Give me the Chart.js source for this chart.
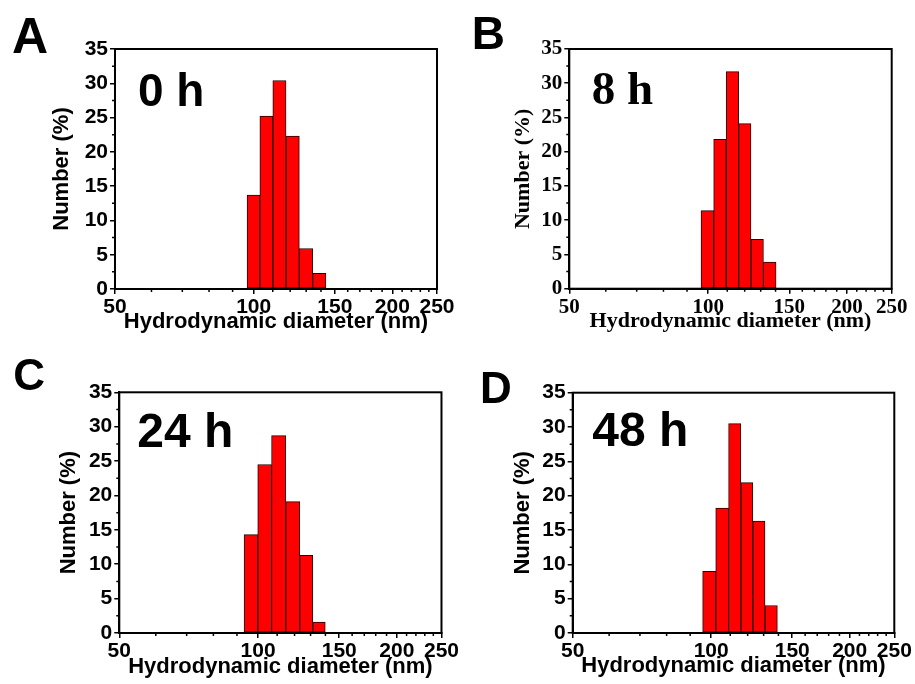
<!DOCTYPE html>
<html>
<head>
<meta charset="utf-8">
<script src="https://cdn.jsdelivr.net/npm/chart.js@4.4.1/dist/chart.umd.min.js"></script>
<style>
  body { margin: 0; background: #fff; }
  #wrap { position: relative; width: 915px; height: 684px; overflow: hidden; }
  canvas { position: absolute; }
</style>
</head>
<body>
<div id="wrap">
  <canvas id="cA" width="460" height="342" style="left:0;top:0"></canvas>
  <canvas id="cB" width="458" height="342" style="left:457px;top:0"></canvas>
  <canvas id="cC" width="460" height="342" style="left:0;top:342px"></canvas>
  <canvas id="cD" width="458" height="342" style="left:457px;top:342px"></canvas>
</div>
<script>
// bin centres (nm) and number (%)
const sizesA = [99.9, 106.5, 113.7, 121.5, 129.9, 138.8];
const numberA = [13.7, 25.2, 30.4, 22.3, 5.9, 2.3];

const sizesB = [99.6, 106.1, 112.9, 120.1, 127.7, 136.0];
const numberB = [11.4, 21.8, 31.7, 24.1, 7.2, 3.9];

const sizesC = [96.5, 103.3, 110.8, 119.0, 127.4, 135.6];
const numberC = [14.3, 24.5, 28.7, 19.1, 11.3, 1.6];

const sizesD = [99.0, 105.7, 112.6, 119.5, 126.9, 135.0];
const numberD = [9.0, 18.2, 30.5, 21.9, 16.3, 4.0];

const xTicks = [50, 100, 150, 200, 250];
const xMinor = [60, 70, 80, 90, 110, 120, 130, 140, 160, 170, 180, 190, 210, 220, 230, 240];
const yTicks = [0, 5, 10, 15, 20, 25, 30, 35];
const yMinor = [2.5, 7.5, 12.5, 17.5, 22.5, 27.5, 32.5];

const xTitle = 'Hydrodynamic diameter (nm)';
const yTitle = 'Number (%)';

// box, minor ticks, panel letter and time label
const decor = {
    id: 'decor',
    afterDraw(chart, args, o) {
        const {ctx, chartArea: a, scales: {x, y}} = chart;
        ctx.save();
        ctx.strokeStyle = '#000';
        ctx.lineWidth = 1.5;
        ctx.beginPath();
        xMinor.forEach(v => {
            const px = x.getPixelForValue(v);
            ctx.moveTo(px, a.bottom);
            ctx.lineTo(px, a.bottom + 3);
        });
        yMinor.forEach(v => {
            const py = y.getPixelForValue(v);
            ctx.moveTo(a.left, py);
            ctx.lineTo(a.left - 3, py);
        });
        ctx.stroke();
        ctx.lineWidth = 2;
        ctx.strokeRect(a.left, a.top, a.right - a.left, a.bottom - a.top);

        ctx.fillStyle = '#000';
        ctx.textBaseline = 'alphabetic';
        ctx.font = 'bold ' + o.letterSize + 'px "Liberation Sans", Arial, sans-serif';
        ctx.fillText(o.letter, o.letterPos[0], o.letterPos[1]);
        ctx.font = 'bold ' + o.timeSize + 'px ' + o.family;
        ctx.fillText(o.time, o.timePos[0], o.timePos[1]);
        ctx.restore();
    }
};

function makePanel(id, sizes, values, p) {
    const family = p.serif ? '"Liberation Serif", "Times New Roman", serif'
                           : '"Liberation Sans", Arial, sans-serif';
    return new Chart(document.getElementById(id), {
        type: 'bar',
        data: {
            datasets: [{
                data: sizes.map((s, i) => ({x: s, y: values[i]})),
                backgroundColor: '#ff0000',
                borderColor: '#2a0000',
                borderWidth: 1,
                borderSkipped: false,
                barThickness: 'flex',
                categoryPercentage: 1,
                barPercentage: 1
            }]
        },
        options: {
            responsive: false,
            animation: false,
            layout: {padding: {top: p.top, right: p.right, left: 0, bottom: 0}},
            plugins: {
                legend: {display: false},
                tooltip: {enabled: false},
                decor: {
                    family: family,
                    letter: p.letter, letterSize: p.letterSize, letterPos: p.letterPos,
                    time: p.time, timeSize: p.timeSize, timePos: p.timePos
                }
            },
            scales: {
                x: {
                    type: 'logarithmic',
                    min: 50,
                    max: 250,
                    offset: false,
                    afterBuildTicks: s => { s.ticks = xTicks.map(v => ({value: v})); },
                    afterFit: s => { s.height = p.xh; },
                    grid: {offset: false, drawOnChartArea: false, color: '#000', lineWidth: 1.5, tickLength: 5},
                    border: {display: true, color: '#000', width: 2},
                    ticks: {
                        autoSkip: false, maxRotation: 0, padding: 1,
                        color: '#000',
                        font: {family: family, size: 21, weight: 'bold'},
                        callback: v => String(v)
                    },
                    title: {
                        display: true, text: xTitle, color: '#000',
                        font: {family: family, size: 22, weight: 'bold'},
                        padding: {top: 0, bottom: p.xTitlePad}
                    }
                },
                y: {
                    min: 0,
                    max: 35,
                    afterBuildTicks: s => { s.ticks = yTicks.map(v => ({value: v})); },
                    afterFit: s => { s.width = p.yw; },
                    grid: {drawOnChartArea: false, color: '#000', lineWidth: 1.5, tickLength: 5},
                    border: {display: true, color: '#000', width: 2},
                    ticks: {
                        padding: 2,
                        color: '#000',
                        font: {family: family, size: 21, weight: 'bold'}
                    },
                    title: {
                        display: true, text: yTitle, color: '#000',
                        font: {family: family, size: 22, weight: 'bold'},
                        padding: {top: p.yTitlePad, bottom: 0}
                    }
                }
            }
        },
        plugins: [decor]
    });
}

makePanel('cA', sizesA, numberA, {
    top: 49, right: 23, yw: 115, xh: 53, xTitlePad: 6.4, yTitlePad: 48.8,
    letter: 'A', letterSize: 50, letterPos: [12, 53],
    time: '0 h', timeSize: 46, timePos: [138, 106]
});
makePanel('cB', sizesB, numberB, {
    serif: true,
    top: 49, right: 23.3, yw: 112.3, xh: 53.3, xTitlePad: 7.8, yTitlePad: 53.3,
    letter: 'B', letterSize: 46, letterPos: [14.7, 49.3],
    time: '8 h', timeSize: 47, timePos: [134.7, 104.3]
});
makePanel('cC', sizesC, numberC, {
    top: 50.3, right: 18.3, yw: 119.3, xh: 51, xTitlePad: 3.4, yTitlePad: 55.8,
    letter: 'C', letterSize: 44, letterPos: [13.3, 48],
    time: '24 h', timeSize: 48, timePos: [137.3, 105.3]
});
makePanel('cD', sizesD, numberD, {
    top: 50.7, right: 20.7, yw: 115.7, xh: 51, xTitlePad: 5.1, yTitlePad: 52.8,
    letter: 'D', letterSize: 44, letterPos: [23, 60.7],
    time: '48 h', timeSize: 48, timePos: [135.3, 104]
});
</script>
</body>
</html>
